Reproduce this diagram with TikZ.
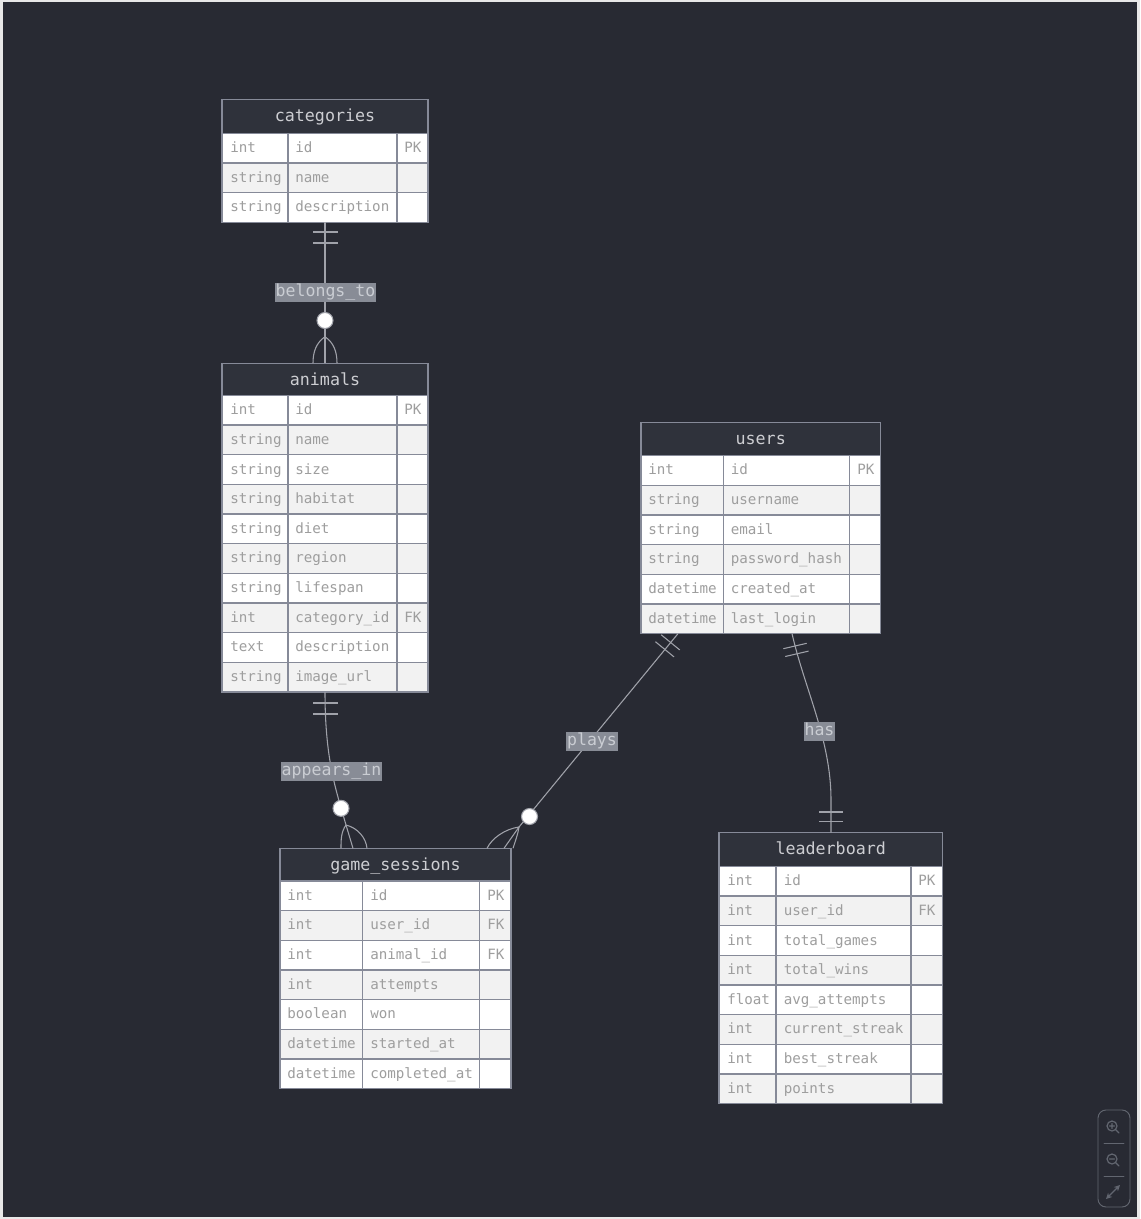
\documentclass[tikz,border=0pt]{standalone}
\usepackage{fontspec}
\usetikzlibrary{arrows.meta}
\setmonofont{DejaVu Sans Mono}
\definecolor{framecol}{RGB}{232,232,232}
\definecolor{bgcol}{RGB}{40,42,51}
\definecolor{hdrcol}{RGB}{47,50,59}
\definecolor{gridcol}{RGB}{134,138,152}
\definecolor{rowalt}{RGB}{242,242,242}
\definecolor{celltext}{RGB}{158,158,158}
\definecolor{hdrtext}{RGB}{205,206,210}
\definecolor{relcol}{RGB}{160,162,170}
\definecolor{lblfill}{RGB}{136,140,150}
\definecolor{lbltext}{RGB}{202,205,211}
\definecolor{toolcol}{RGB}{98,102,112}
\begin{document}
\begin{tikzpicture}[x=0.75pt,y=0.75pt,yscale=-1,xscale=1,
  hdrbox/.style={draw=gridcol,fill=hdrcol,line width=1pt},
  cellbox/.style={draw=gridcol,line width=1pt},
  celltxt/.style={anchor=base west,inner sep=0pt,text=celltext,font=\ttfamily\fontsize{10.65}{12}\selectfont},
  hdrtxt/.style={anchor=base,inner sep=0pt,text=hdrtext,font=\ttfamily\fontsize{12.5}{14}\selectfont},
  rel/.style={draw=relcol,line width=0.8pt},
  optcirc/.style={draw=relcol,fill=white,line width=0.8pt},
  lbl/.style={fill=lblfill,text=lbltext,inner xsep=0.6pt,inner ysep=1.6pt,text height=9pt,text depth=2.5pt,font=\ttfamily\fontsize{12.4}{14}\selectfont},
  tool/.style={draw=toolcol,line width=0.9pt,line cap=round}]
\useasboundingbox (0,0) rectangle (1140,1219);

%Shape: Frame and background
\fill[framecol] (0,0) rectangle (1140,1219);
\fill[bgcol] (3,2) rectangle (1137,1217);

%Shape: Table categories
\draw[hdrbox] (222,99.7) rectangle (428,133.3);
\node[hdrtxt] (categories) at (325,121.7) {categories};
\foreach \ty/\nm/\ky [count=\i] in {int/id/PK, string/name/{}, string/description/{}} {
  \pgfmathsetmacro\ytop{133.3+(\i-1)*29.65}
  \ifodd\i\relax\def\rowfill{white}\else\def\rowfill{rowalt}\fi
  \draw[cellbox,fill=\rowfill] (222,\ytop) rectangle (288,\ytop+29.65);
  \draw[cellbox,fill=\rowfill] (288,\ytop) rectangle (397,\ytop+29.65);
  \draw[cellbox,fill=\rowfill] (397,\ytop) rectangle (428,\ytop+29.65);
  \node[celltxt] (cat-ty-\i) at (230,\ytop+19.2) {\ty};
  \node[celltxt] (cat-nm-\i) at (295,\ytop+19.2) {\nm};
  \node[celltxt] (cat-ky-\i) at (404,\ytop+19.2) {\ky};
}

%Shape: Table animals
\draw[hdrbox] (222,363.2) rectangle (428,395.5);
\node[hdrtxt] (animals) at (325,385.2) {animals};
\foreach \ty/\nm/\ky [count=\i] in {int/id/PK, string/name/{}, string/size/{}, string/habitat/{}, string/diet/{}, string/region/{}, string/lifespan/{}, int/category\_id/FK, text/description/{}, string/image\_url/{}} {
  \pgfmathsetmacro\ytop{395.5+(\i-1)*29.65}
  \ifodd\i\relax\def\rowfill{white}\else\def\rowfill{rowalt}\fi
  \draw[cellbox,fill=\rowfill] (222,\ytop) rectangle (288,\ytop+29.65);
  \draw[cellbox,fill=\rowfill] (288,\ytop) rectangle (397,\ytop+29.65);
  \draw[cellbox,fill=\rowfill] (397,\ytop) rectangle (428,\ytop+29.65);
  \node[celltxt] (ani-ty-\i) at (230,\ytop+19.2) {\ty};
  \node[celltxt] (ani-nm-\i) at (295,\ytop+19.2) {\nm};
  \node[celltxt] (ani-ky-\i) at (404,\ytop+19.2) {\ky};
}

%Shape: Table users
\draw[hdrbox] (641,422.7) rectangle (880.5,455.7);
\node[hdrtxt] (users) at (760.7,444.5) {users};
\foreach \ty/\nm/\ky [count=\i] in {int/id/PK, string/username/{}, string/email/{}, string/password\_hash/{}, datetime/created\_at/{}, datetime/last\_login/{}} {
  \pgfmathsetmacro\ytop{455.7+(\i-1)*29.65}
  \ifodd\i\relax\def\rowfill{white}\else\def\rowfill{rowalt}\fi
  \draw[cellbox,fill=\rowfill] (641,\ytop) rectangle (723.3,\ytop+29.65);
  \draw[cellbox,fill=\rowfill] (723.3,\ytop) rectangle (849.5,\ytop+29.65);
  \draw[cellbox,fill=\rowfill] (849.5,\ytop) rectangle (880.5,\ytop+29.65);
  \node[celltxt] (usr-ty-\i) at (648,\ytop+19.2) {\ty};
  \node[celltxt] (usr-nm-\i) at (730.5,\ytop+19.2) {\nm};
  \node[celltxt] (usr-ky-\i) at (857,\ytop+19.2) {\ky};
}

%Shape: Table game_sessions
\draw[hdrbox] (280,848.3) rectangle (511,881);
\node[hdrtxt] (game_sessions) at (395.5,870) {game\_sessions};
\foreach \ty/\nm/\ky [count=\i] in {int/id/PK, int/user\_id/FK, int/animal\_id/FK, int/attempts/{}, boolean/won/{}, datetime/started\_at/{}, datetime/completed\_at/{}} {
  \pgfmathsetmacro\ytop{881+(\i-1)*29.65}
  \ifodd\i\relax\def\rowfill{white}\else\def\rowfill{rowalt}\fi
  \draw[cellbox,fill=\rowfill] (280,\ytop) rectangle (362.3,\ytop+29.65);
  \draw[cellbox,fill=\rowfill] (362.3,\ytop) rectangle (479.5,\ytop+29.65);
  \draw[cellbox,fill=\rowfill] (479.5,\ytop) rectangle (511,\ytop+29.65);
  \node[celltxt] (gs-ty-\i) at (287,\ytop+19.2) {\ty};
  \node[celltxt] (gs-nm-\i) at (370,\ytop+19.2) {\nm};
  \node[celltxt] (gs-ky-\i) at (487,\ytop+19.2) {\ky};
}

%Shape: Table leaderboard
\draw[hdrbox] (719,832.7) rectangle (942.5,866.5);
\node[hdrtxt] (leaderboard) at (830.7,854.8) {leaderboard};
\foreach \ty/\nm/\ky [count=\i] in {int/id/PK, int/user\_id/FK, int/total\_games/{}, int/total\_wins/{}, float/avg\_attempts/{}, int/current\_streak/{}, int/best\_streak/{}, int/points/{}} {
  \pgfmathsetmacro\ytop{866.5+(\i-1)*29.65}
  \ifodd\i\relax\def\rowfill{white}\else\def\rowfill{rowalt}\fi
  \draw[cellbox,fill=\rowfill] (719,\ytop) rectangle (776,\ytop+29.65);
  \draw[cellbox,fill=\rowfill] (776,\ytop) rectangle (911,\ytop+29.65);
  \draw[cellbox,fill=\rowfill] (911,\ytop) rectangle (942.5,\ytop+29.65);
  \node[celltxt] (ldr-ty-\i) at (727,\ytop+19.2) {\ty};
  \node[celltxt] (ldr-nm-\i) at (783.5,\ytop+19.2) {\nm};
  \node[celltxt] (ldr-ky-\i) at (918,\ytop+19.2) {\ky};
}

% Connector ends
\coordinate (cat-s) at (325,222.3);
\coordinate (ani-n) at (325,363.2);
\coordinate (ani-s) at (325,692);
\coordinate (gs-n1) at (353,848.3);
\coordinate (gs-n2) at (504,848.3);
\coordinate (usr-s1) at (678,633.6);
\coordinate (usr-s2) at (792,633.6);
\coordinate (ldr-n) at (831,832.7);

%Straight Lines: belongs_to
\draw[rel] (cat-s) -- (ani-n);
\draw[rel] (313,232) -- (338,232) (313,243) -- (338,243);
\draw[rel] (325,336.7) .. controls (316,343) and (313,352) .. (313,363.2);
\draw[rel] (325,336.7) .. controls (334,343) and (337,352) .. (337,363.2);
\draw[optcirc] (325,320.5) circle (8);

%Curve Lines: appears_in
\draw[rel] (ani-s) .. controls (325,760) and (336,790) .. (346,825) -- (gs-n1);
\draw[rel] (313,703) -- (338,703) (313,714) -- (338,714);
\draw[rel] (346,825) .. controls (341,832) and (341,840) .. (341,848.3);
\draw[rel] (346,825) .. controls (358,828) and (366,838) .. (367,848.3);
\draw[optcirc] (341,808.3) circle (8);

%Straight Lines: plays
\draw[rel] (usr-s1) -- (519,827) -- (gs-n2);
\draw[rel] (661.1,634.7) -- (679.7,649.9) (655.4,641.7) -- (674,656.9);
\draw[rel] (519,827) .. controls (505,829) and (492,838) .. (487,848.3);
\draw[rel] (519,827) .. controls (518,834) and (515,842) .. (513,848.3);
\draw[optcirc] (529.5,816.5) circle (8);

%Curve Lines: has
\draw[rel] (usr-s2) .. controls (805,690) and (831,740) .. (831,800) -- (ldr-n);
\draw[rel] (783.3,648.7) -- (806.7,643.3) (785.2,656.5) -- (808.6,651.1);
\draw[rel] (819,812) -- (843,812) (819,821.5) -- (843,821.5);

% Text Node
\node[lbl] (lbl-belongs) at (325.5,292.5) {belongs\_to};
% Text Node
\node[lbl] (lbl-appears) at (331.5,771.5) {appears\_in};
% Text Node
\node[lbl] (lbl-plays) at (592,741.5) {plays};
% Text Node
\node[lbl] (lbl-has) at (819.5,731.5) {has};

%Shape: Zoom controls
\draw[tool,line width=0.7pt,rounded corners=6] (1098,1110) rectangle (1130,1207);
\draw[tool,line width=0.6pt] (1104,1143) -- (1124,1143) (1104,1176) -- (1124,1176);
\draw[tool] (1112,1126) circle (5) (1115.6,1129.6) -- (1119,1133) (1109.5,1126) -- (1114.5,1126) (1112,1123.5) -- (1112,1128.5);
\draw[tool] (1112,1159) circle (5) (1115.6,1162.6) -- (1119,1166) (1109.5,1159) -- (1114.5,1159);
\draw[tool,-{Stealth[length=4.5pt,width=4.5pt]}] (1113,1192) -- (1120,1185);
\draw[tool,-{Stealth[length=4.5pt,width=4.5pt]}] (1113,1192) -- (1106,1199);
\end{tikzpicture}
\end{document}
